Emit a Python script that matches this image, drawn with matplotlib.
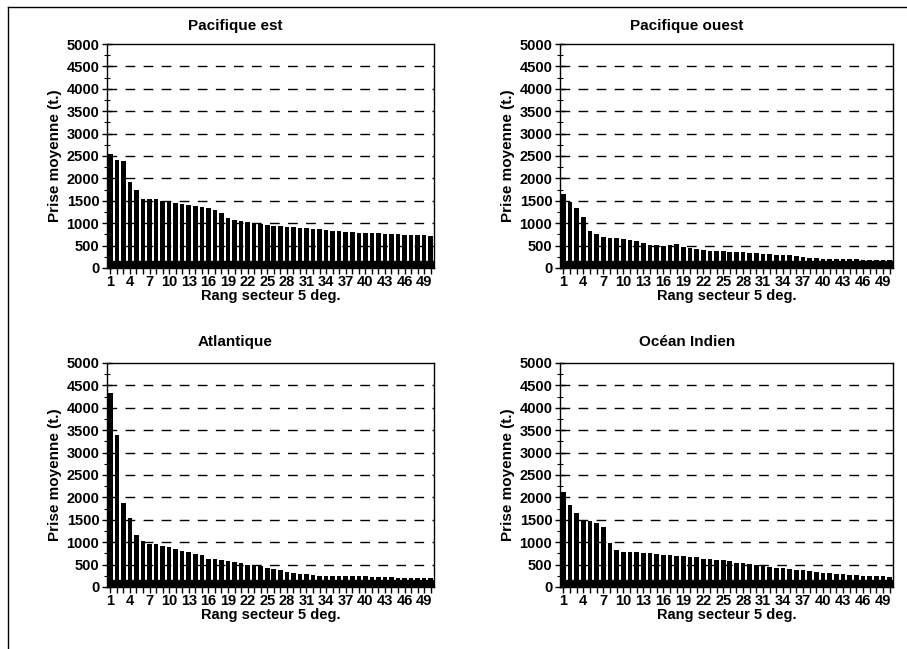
import matplotlib
matplotlib.use("Agg")
import matplotlib.pyplot as plt
from matplotlib.ticker import MultipleLocator, FixedLocator
import numpy as np

plt.rcParams['font.family'] = ['Liberation Sans', 'DejaVu Sans']
plt.rcParams['font.weight'] = 'bold'

rangs = list(range(1, 51))
tick_labels = [str(r) for r in range(1, 51, 3)]

pacifique_est = [2550, 2420, 2380, 1930, 1730, 1550, 1550, 1530, 1500, 1480,
                 1450, 1420, 1400, 1380, 1370, 1340, 1300, 1230, 1120, 1080,
                 1050, 1020, 1000, 990, 960, 940, 930, 920, 910, 900,
                 890, 880, 870, 850, 830, 820, 810, 800, 790, 790,
                 790, 780, 770, 760, 750, 740, 740, 730, 730, 720]

pacifique_ouest = [1650, 1470, 1340, 1130, 830, 750, 700, 680, 660, 640,
                   620, 600, 560, 520, 510, 490, 520, 530, 460, 440,
                   420, 400, 390, 380, 375, 365, 360, 350, 345, 335,
                   320, 305, 300, 290, 285, 260, 245, 230, 225, 210,
                   205, 200, 195, 190, 190, 185, 185, 180, 180, 175]

atlantique = [4320, 3400, 1880, 1540, 1160, 1030, 960, 950, 920, 890,
              840, 810, 790, 740, 710, 630, 615, 600, 570, 555,
              525, 500, 490, 465, 435, 405, 375, 345, 315, 300,
              280, 265, 255, 250, 245, 245, 240, 240, 235, 235,
              230, 225, 220, 215, 210, 205, 200, 200, 195, 190]

ocean_indien = [2130, 1830, 1650, 1500, 1480, 1420, 1350, 980, 820, 790,
                785, 780, 765, 755, 745, 720, 705, 695, 690, 675,
                660, 635, 620, 605, 600, 585, 545, 525, 510, 495,
                470, 450, 435, 420, 405, 390, 375, 360, 345, 320,
                305, 290, 285, 270, 260, 255, 245, 240, 235, 225]

panels = [
    ("Pacifique est", pacifique_est),
    ("Pacifique ouest", pacifique_ouest),
    ("Atlantique", atlantique),
    ("Océan Indien", ocean_indien),
]

W, H = 907, 649
fig = plt.figure(figsize=(W / 100, H / 100), dpi=100)

# axes boxes in pixels: (left, right, top, bottom)
boxes = [(107, 434, 44, 268), (560, 893, 44, 268),
         (107, 434, 363, 587), (560, 893, 363, 587)]
title_x = [235, 687, 235, 687]
title_y = [26, 26, 342, 342]

for (title, vals), (l, r, t, b), tx, ty in zip(panels, boxes, title_x, title_y):
    ax = fig.add_axes([l / W, 1 - b / H, (r - l) / W, (b - t) / H])
    ax.bar(rangs, vals, width=0.7, color='black', zorder=3)
    ax.axhspan(0, 150, color='black', zorder=2)
    ax.set_xlim(0.5, 50.5)
    ax.set_ylim(0, 5000)
    ax.yaxis.set_major_locator(MultipleLocator(500))
    ax.yaxis.set_minor_locator(MultipleLocator(250))
    ax.xaxis.set_major_locator(FixedLocator(list(range(1, 51, 3))))
    ax.set_xticklabels(tick_labels)
    ax.xaxis.set_minor_locator(FixedLocator(rangs))
    ax.tick_params(axis='x', which='both', direction='out', length=4,
                   width=1, labelsize=10.5, pad=1)
    ax.tick_params(axis='y', which='major', direction='inout', length=7,
                   width=1, labelsize=10.5, pad=2)
    ax.tick_params(axis='y', which='minor', direction='inout', length=4, width=0.8)
    for lbl in ax.get_xticklabels() + ax.get_yticklabels():
        lbl.set_fontweight('bold')
    for y in range(500, 5000, 500):
        ax.axhline(y, color='black', lw=1, ls=(0, (7, 6)), zorder=1)
    for s in ax.spines.values():
        s.set_linewidth(1)
    ax.set_ylabel("Prise moyenne (t.)", fontsize=11, fontweight='bold', labelpad=3)
    ax.set_xlabel("Rang secteur 5 deg.", fontsize=10.5, fontweight='bold', labelpad=0)
    fig.text(tx / W, 1 - ty / H, title, ha='center', va='center',
             fontsize=11, fontweight='bold')

# outer frame lines (left and top)
fig.add_artist(plt.Line2D([8 / W, 8 / W], [0, 1 - 7 / H], color='black', lw=1))
fig.add_artist(plt.Line2D([8 / W, 1], [1 - 7 / H, 1 - 7 / H], color='black', lw=1))

fig.savefig("out.png", dpi=100)
